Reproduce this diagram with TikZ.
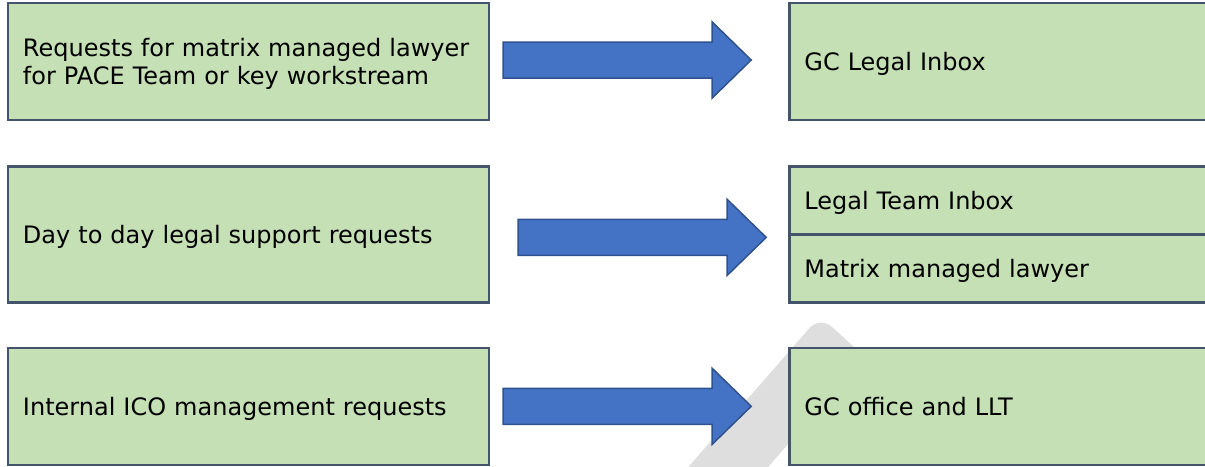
\documentclass[tikz,border=0pt]{standalone}
\usepackage{fontspec}
\setmainfont{DejaVu Sans}
\usetikzlibrary{calc,positioning}
\definecolor{boxgreen}{HTML}{C5E0B4}
\definecolor{boxedge}{HTML}{44546A}
\definecolor{arrowblue}{HTML}{4472C4}
\definecolor{arrowedge}{HTML}{2F528F}
\definecolor{markgray}{HTML}{DEDEDE}
\tikzset{>=stealth}

\begin{document}
\begin{tikzpicture}[
    x=0.5pt,
    y=-0.5pt,
    font=\fontsize{12}{14}\selectfont,
    block/.style={
      draw=boxedge,
      line width=1.2pt,
      fill=boxgreen,
      align=left,
      inner xsep=7.5pt,
      text depth=0pt,
      minimum height=58.5pt,
    },
    leftblock/.style={
      block,
      text width=225.5pt,
      minimum width=240.5pt,
    },
    rightblock/.style={
      block,
      text width=200pt,
      minimum width=215pt,
    },
    bigarrow/.style={
      draw=arrowedge,
      fill=arrowblue,
      line width=0.75pt,
      to path={let \p1=(\tikztostart), \p2=(\tikztotarget) in
        (\x1,\y1+9pt) -- (\x2-19.5pt,\y1+9pt) -- (\x2-19.5pt,\y1+19pt)
        -- (\x2,\y1) -- (\x2-19.5pt,\y1-19pt) -- (\x2-19.5pt,\y1-9pt)
        -- (\x1,\y1-9pt) -- cycle},
    },
  ]
  \path[use as bounding box, clip] (0,0) rectangle (1205,466);

  % grey band behind the last row
  \fill[markgray, rounded corners=8pt] (820,316) -- (864,356) -- (757,480) -- (677,480) -- cycle;

  \node [
    leftblock,
    text depth=14pt
  ] (req) at (248.5,61.5) {Requests for matrix managed lawyer\\for PACE Team or key workstream};
  \node [
    leftblock,
    minimum height=68pt,
    below=22pt of req
  ] (day) {Day to day legal support requests};
  \node [
    leftblock,
    below=21.5pt of day
  ] (ico) {Internal ICO management requests};

  \node [
    rightblock,
    right=149pt of req
  ] (gc) {GC Legal Inbox};
  \node [
    rightblock,
    minimum height=34pt,
    right=149pt of day,
    yshift=17pt
  ] (lti) {Legal Team Inbox};
  \node [
    rightblock,
    minimum height=34pt,
    below=-1.2pt of lti
  ] (mml) {Matrix managed lawyer};
  \node [
    rightblock,
    right=149pt of ico
  ] (gco) {GC office and LLT};

  \draw[bigarrow] ([xshift=6.5pt,yshift=0.75pt]req.east) to ([xshift=-18.5pt]gc.west);
  \draw[bigarrow] ([xshift=14pt,yshift=-1.5pt]day.east) to ([xshift=-11pt]lti.south west);
  \draw[bigarrow] ([xshift=6.5pt]ico.east) to ([xshift=-18.5pt]gco.west);
\end{tikzpicture}
\end{document}
